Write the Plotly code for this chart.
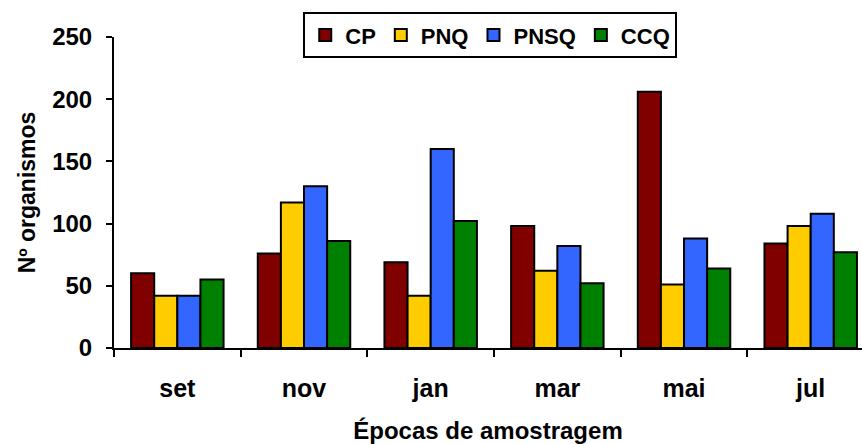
import plotly.graph_objects as go

categories = ["set", "nov", "jan", "mar", "mai", "jul"]
series_names = ["CP", "PNQ", "PNSQ", "CCQ"]
cp = [60, 76, 69, 98, 206, 84]
pnq = [42, 117, 42, 62, 51, 98]
pnsq = [42, 130, 160, 82, 88, 108]
ccq = [55, 86, 102, 52, 64, 77]
y_ticks = [0, 50, 100, 150, 200, 250]

colors = ["#800000", "#FFCC00", "#3366FF", "#008000"]
values = [cp, pnq, pnsq, ccq]

FONT = "Liberation Sans, Arial, sans-serif"

fig = go.Figure()
for name, vals, col in zip(series_names, values, colors):
    fig.add_trace(go.Bar(
        name=name, x=categories, y=vals,
        marker=dict(color=col, line=dict(color="black", width=2)),
    ))

W, H = 862, 444
L, R, T, B = 114, 0, 37, 96
fig.update_layout(
    width=W, height=H,
    margin=dict(l=L, r=R, t=T, b=B),
    paper_bgcolor="white", plot_bgcolor="white",
    barmode="group", bargap=0.27, bargroupgap=0,
    font=dict(family=FONT, size=22, color="black", weight="bold"),
    showlegend=True,
    legend=dict(
        orientation="h", x=0.503, xanchor="center", y=1.08, yanchor="top",
        bordercolor="black", borderwidth=2, bgcolor="white",
        font=dict(family=FONT, size=22, color="black", weight="bold"),
        itemsizing="constant", tracegroupgap=0,
    ),
)
fig.update_xaxes(
    type="category",
    range=[-0.5, 5.405],
    showline=True, linecolor="black", linewidth=2,
    ticks="outside", tickson="boundaries", ticklen=7, tickwidth=2, tickcolor="black",
    showgrid=False, zeroline=False,
    ticklabelstandoff=17,
    tickfont=dict(family=FONT, size=25, color="black", weight="bold"),
    title=dict(text="Épocas de amostragem", standoff=26,
               font=dict(family=FONT, size=24, color="black", weight="bold")),
)
fig.update_yaxes(
    range=[0, 250], tickvals=y_ticks,
    showline=True, linecolor="black", linewidth=2,
    ticks="outside", ticklen=6, tickwidth=2, tickcolor="black",
    showgrid=False, zeroline=False,
    ticklabelstandoff=9,
    tickfont=dict(family=FONT, size=24, color="black", weight="bold"),
    title=dict(text="Nº organismos", standoff=10,
               font=dict(family=FONT, size=23, color="black", weight="bold")),
)
fig.write_html("out.html")
